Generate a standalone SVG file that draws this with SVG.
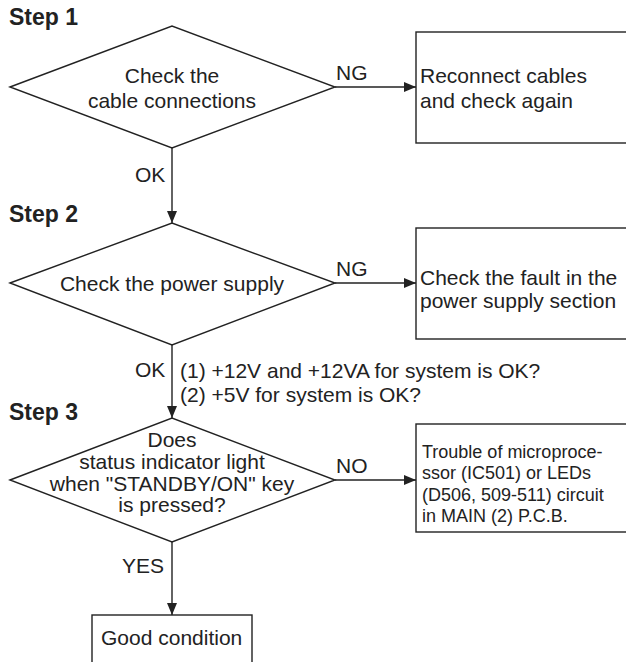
<svg xmlns="http://www.w3.org/2000/svg" width="626" height="662" viewBox="0 0 626 662">
<defs>
<marker id="ah" viewBox="0 0 12 10" refX="12" refY="5" markerWidth="12" markerHeight="10" markerUnits="userSpaceOnUse" orient="auto">
<path d="M0,0 L12,5 L0,10 Z" fill="#222"/>
</marker>
</defs>
<style>
.s{fill:#fff;stroke:#222;stroke-width:1.4}
.c{fill:none;stroke:#222;stroke-width:1.4;marker-end:url(#ah)}
text{font-family:"Liberation Sans",Arial,sans-serif;font-size:21px;fill:#222}
.h{font-weight:bold;font-size:23px}
.m{text-anchor:middle}
.sm{font-size:18px}
</style>
<rect width="626" height="662" fill="#fff"/>
<g id="labels">
<text class="h" x="9" y="25">Step 1</text>
<text class="h" x="9" y="222">Step 2</text>
<text class="h" x="9" y="420">Step 3</text>
</g>
<g id="connectors">
<path class="c" d="M335,87 H416"/>
<path class="c" d="M172,148 V223"/>
<path class="c" d="M335,283 H416"/>
<path class="c" d="M172,345 V418"/>
<path class="c" d="M335,480 H416"/>
<path class="c" d="M172,542 V615"/>
<text x="336" y="80">NG</text>
<text x="135" y="182">OK</text>
<text x="336" y="276">NG</text>
<text x="135" y="377">OK</text>
<text x="180" y="378">(1) +12V and +12VA for system is OK?</text>
<text x="180" y="402">(2) +5V for system is OK?</text>
<text x="336" y="473">NO</text>
<text x="122" y="573">YES</text>
</g>
<g id="d1">
<polygon class="s" points="10,87 172,26 335,87 172,148"/>
<text class="m" x="172" y="83">Check the</text>
<text class="m" x="172" y="108">cable connections</text>
</g>
<g id="b1">
<rect class="s" x="416" y="32" width="220" height="111"/>
<text x="420" y="83">Reconnect cables</text>
<text x="420" y="108">and check again</text>
</g>
<g id="d2">
<polygon class="s" points="10,283 172,223 335,283 172,345"/>
<text class="m" x="172" y="291">Check the power supply</text>
</g>
<g id="b2">
<rect class="s" x="416" y="228" width="220" height="111"/>
<text x="420" y="285">Check the fault in the</text>
<text x="420" y="308">power supply section</text>
</g>
<g id="d3">
<polygon class="s" points="10,480 172,418 335,480 172,542"/>
<text class="m" x="172" y="447">Does</text>
<text class="m" x="172" y="469">status indicator light</text>
<text class="m" x="172" y="491">when "STANDBY/ON" key</text>
<text class="m" x="172" y="512">is pressed?</text>
</g>
<g id="b3">
<rect class="s" x="416" y="424" width="220" height="108"/>
<text class="sm" x="422" y="458">Trouble of microproce-</text>
<text class="sm" x="422" y="479">ssor (IC501) or LEDs</text>
<text class="sm" x="422" y="501">(D506, 509-511) circuit</text>
<text class="sm" x="422" y="522">in MAIN (2) P.C.B.</text>
</g>
<g id="b4">
<rect class="s" x="92" y="615" width="160" height="60"/>
<text x="101" y="645">Good condition</text>
</g>
</svg>
